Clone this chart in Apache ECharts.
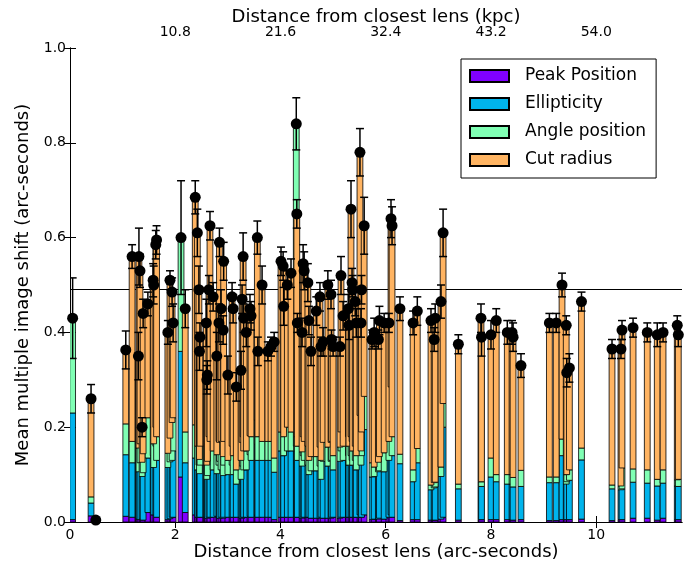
<!DOCTYPE html>
<html>
<head>
<meta charset="utf-8">
<script src="https://cdn.jsdelivr.net/npm/echarts@6/dist/echarts.min.js"></script>
<style>html,body{margin:0;background:#fff}#chart{width:687px;height:570px}</style>
</head>
<body>
<div id="chart"></div>
<script>
// distance from closest lens (arc-seconds), one entry per bar
const dist = [
  0.05,0.40,0.49,1.06,1.18,1.30,1.31,1.33,1.37,1.39,
  1.48,1.58,1.59,1.63,1.645,1.86,1.90,1.94,1.96,2.11,
  2.19,2.38,2.42,2.45,2.46,2.47,2.59,2.60,2.61,2.64,
  2.66,2.72,2.79,2.83,2.84,2.87,2.91,2.92,3.00,3.08,
  3.10,3.16,3.25,3.27,3.29,3.30,3.35,3.42,3.44,3.56,
  3.57,3.65,3.76,3.82,3.88,4.01,4.05,4.06,4.13,4.20,
  4.30,4.31,4.32,4.41,4.43,4.45,4.52,4.54,4.58,4.68,
  4.75,4.77,4.81,4.90,4.96,4.97,5.00,5.13,5.15,5.19,
  5.29,5.30,5.34,5.36,5.37,5.42,5.44,5.51,5.53,5.54,
  5.59,5.74,5.78,5.86,5.88,5.97,6.06,6.10,6.12,6.27,
  6.52,6.60,6.86,6.92,6.94,7.05,7.09,7.38,7.81,7.82,
  8.00,8.10,8.31,8.40,8.42,8.57,9.11,9.24,9.35,9.43,
  9.44,9.49,9.72,10.30,10.47,10.49,10.70,10.97,11.16,11.27,
  11.54,11.56
];
const peakPos = [
  .005,.013,.003,.012,.01,.008,.006,.005,.006,.004,
  .02,.02,.015,.015,.01,.005,.007,.01,.01,.095,
  .02,.015,.01,.01,.012,.01,.01,.01,.008,.01,
  .01,.01,.012,.01,.008,.01,.008,.01,.01,.01,
  .01,.01,.01,.008,.01,.01,.01,.012,.01,.015,
  .01,.01,.01,.01,.005,.01,.01,.01,.01,.01,
  .01,.01,.01,.008,.01,.01,.01,.01,.008,.008,
  .008,.01,.008,.008,.008,.01,.01,.008,.01,.01,
  .01,.01,.01,.01,.01,.01,.01,.015,.01,.01,
  .015,.005,.006,.006,.008,.006,.01,.015,.01,.003,
  .005,.005,.004,.004,.004,.006,.01,.004,.005,.005,
  .005,.005,.005,.005,.004,.005,.003,.003,.005,.005,
  .005,.005,.006,.003,.005,.005,.008,.008,.004,.008,
  .005,.005
];
const ellipticity = [
  .225,.027,.001,.13,.115,.12,.10,.12,.09,.10,
  .115,.12,.10,.145,.12,.11,.12,.12,.14,.265,
  .105,.12,.10,.11,.09,.11,.11,.08,.09,.12,
  .12,.10,.09,.11,.12,.10,.09,.11,.09,.11,
  .09,.07,.08,.11,.13,.10,.10,.13,.12,.15,
  .12,.12,.12,.12,.10,.14,.13,.13,.14,.14,
  .15,.14,.12,.11,.13,.12,.11,.09,.10,.10,
  .11,.08,.12,.11,.12,.12,.10,.12,.14,.12,
  .13,.11,.13,.12,.11,.12,.10,.16,.11,.13,
  .18,.09,.09,.10,.10,.10,.12,.20,.13,.12,
  .08,.12,.064,.068,.07,.09,.19,.066,.07,.07,
  .09,.08,.075,.075,.07,.07,.08,.08,.135,.075,
  .08,.083,.125,.067,.063,.065,.076,.074,.072,.074,
  .071,.07
];
const anglePos = [
  .20,.013,0,.065,.045,.04,.05,.04,.03,.04,
  .085,.06,.05,.04,.05,.03,.05,.08,.07,.24,
  .065,.07,.05,.04,.03,.04,.04,.03,.03,.05,
  .04,.04,.04,.05,.04,.06,.04,.05,.03,.04,
  .04,.03,.04,.05,.04,.04,.04,.04,.05,.05,
  .05,.04,.04,.04,.03,.04,.05,.04,.05,.04,
  .68,.03,.03,.03,.04,.04,.04,.03,.03,.03,
  .04,.04,.04,.04,.04,.04,.03,.03,.04,.03,
  .04,.04,.04,.04,.03,.03,.03,.05,.03,.05,
  .07,.03,.02,.02,.03,.04,.04,.07,.04,.02,
  .025,.03,.01,.011,.01,.02,.05,.01,.01,.01,
  .04,.015,.02,.02,.02,.034,.012,.012,.035,.02,
  .015,.022,.025,.008,.008,.044,.028,.028,.014,.028,
  .013,.015
];
const cutRadius = [
  0,.207,0,.156,.39,.182,.404,.365,.074,.296,
  .24,.31,.335,.385,.415,.255,.333,.275,.20,0,
  .26,.48,.45,.33,.228,.23,.26,.18,.182,.31,
  .455,.325,.208,.25,.422,.28,.267,.38,.18,.315,
  .31,.175,.19,.302,.38,.28,.25,.268,.255,.385,
  .18,.33,.19,.20,.245,.36,.35,.275,.30,.335,
  0,.47,.26,.252,.365,.36,.345,.295,.222,.307,
  .317,.24,.212,.342,.312,.215,.23,.212,.33,.275,
  .27,.255,.48,.335,.34,.305,.28,.555,.27,.30,
  .36,.26,.284,.259,.287,.274,.25,.355,.445,.307,
  .31,.29,.347,.302,.346,.349,.36,.295,.345,.305,
  .26,.325,.30,.30,.296,.221,.325,.325,.325,.315,
  .215,.215,.309,.287,.289,.291,.298,.29,.305,.29,
  .326,.305
];
const errHalf = [
  .085,.03,.002,.04,.025,.05,.06,.035,.02,.03,
  .025,.035,.04,.03,.03,.025,.02,.03,.04,.12,
  .04,.035,.05,.05,.04,.03,.05,.03,.03,.03,
  .03,.03,.05,.04,.03,.04,.03,.04,.04,.03,
  .03,.03,.04,.03,.05,.03,.03,.03,.03,.035,
  .03,.04,.02,.02,.02,.03,.03,.04,.03,.03,
  .055,.03,.02,.03,.04,.04,.04,.03,.03,.03,
  .03,.02,.03,.03,.03,.02,.02,.02,.04,.03,
  .03,.03,.06,.03,.03,.03,.03,.05,.03,.03,
  .06,.02,.03,.02,.03,.02,.02,.04,.04,.025,
  .025,.03,.025,.025,.03,.035,.05,.02,.03,.04,
  .03,.025,.025,.025,.03,.025,.02,.02,.025,.02,
  .03,.03,.02,.02,.02,.02,.02,.02,.025,.02,
  .02,.025
];
const kpcTicks = [10.8, 21.6, 32.4, 43.2, 54.0];
const kpcPerArcsec = 5.4;
const xMax = 11.63;
const refLevel = 0.488;

const components = [
  { name: 'Peak Position', values: peakPos, color: '#8000ff' },
  { name: 'Ellipticity', values: ellipticity, color: '#00b4ec' },
  { name: 'Angle position', values: anglePos, color: '#80ffb4' },
  { name: 'Cut radius', values: cutRadius, color: '#ffb462' }
];

const BAR_W = 0.11;
const FONT = 'DejaVu Sans';

// stack the components by hand so each rect knows its base
let base = dist.map(() => 0);
const barSeries = components.map((c) => {
  const data = dist.map((x, i) => {
    const y0 = base[i];
    const y1 = y0 + c.values[i];
    return [x, y0, y1];
  });
  base = data.map(d => d[2]);
  return {
    name: c.name,
    type: 'custom',
    z: 2,
    clip: true,
    itemStyle: { color: c.color, borderColor: '#000', borderWidth: 1 },
    encode: { x: 0, y: 2 },
    renderItem: (params, api) => {
      const x = api.value(0);
      const p0 = api.coord([x - BAR_W / 2, api.value(1)]);
      const p1 = api.coord([x + BAR_W / 2, api.value(2)]);
      return {
        type: 'rect',
        shape: { x: p0[0], y: p1[1], width: p1[0] - p0[0], height: p0[1] - p1[1] },
        style: { fill: c.color, stroke: 'rgba(0,0,0,0.8)', lineWidth: 1 }
      };
    },
    data: data
  };
});
const totals = base;

barSeries[0].markLine = {
  silent: true, z: 1, symbol: 'none', animation: false,
  label: { show: false },
  lineStyle: { color: '#000', width: 1.2, type: 'solid' },
  data: [{ yAxis: refLevel }]
};

const errSeries = {
  type: 'custom',
  z: 3,
  clip: true,
  encode: { x: 0, y: 1 },
  renderItem: (params, api) => {
    const x = api.value(0), y = api.value(1), e = api.value(2);
    const hi = api.coord([x, y + e]);
    const lo = api.coord([x, y - e]);
    const cap = 4;
    const st = { stroke: '#000', lineWidth: 1.5 };
    return {
      type: 'group',
      children: [
        { type: 'line', shape: { x1: hi[0], y1: hi[1], x2: lo[0], y2: lo[1] }, style: st },
        { type: 'line', shape: { x1: hi[0] - cap, y1: hi[1], x2: hi[0] + cap, y2: hi[1] }, style: st },
        { type: 'line', shape: { x1: lo[0] - cap, y1: lo[1], x2: lo[0] + cap, y2: lo[1] }, style: st }
      ]
    };
  },
  data: dist.map((x, i) => [x, totals[i], errHalf[i]])
};

const dotSeries = {
  type: 'scatter',
  z: 4,
  symbolSize: 11,
  itemStyle: { color: '#000', opacity: 1 },
  data: dist.map((x, i) => [x, totals[i]])
};

const tickStyle = { inside: true, length: 6, lineStyle: { color: '#000' } };
const labelStyle = { color: '#000', fontFamily: FONT, fontSize: 14 };
const nameStyle = { color: '#000', fontFamily: FONT, fontSize: 18 };

const chart = echarts.init(document.getElementById('chart'));
chart.setOption({
  animation: false,
  backgroundColor: '#fff',
  grid: { left: 70, right: 5, top: 48, bottom: 48, containLabel: false, outerBoundsMode: 'none' },
  legend: {
    orient: 'vertical',
    left: 461, top: 59,
    padding: [8, 10, 9, 8],
    itemGap: 10,
    itemWidth: 39, itemHeight: 12,
    icon: 'rect',
    borderColor: '#000', borderWidth: 1,
    backgroundColor: '#fff',
    textStyle: { color: '#000', fontFamily: FONT, fontSize: 17, lineHeight: 18, padding: [0, 0, 0, 11] },
    data: components.map(c => c.name)
  },
  xAxis: [
    {
      type: 'value', min: 0, max: xMax, interval: 2,
      name: 'Distance from closest lens (arc-seconds)',
      nameLocation: 'middle', nameGap: 21, nameMoveOverlap: false, nameTextStyle: nameStyle,
      axisLine: { lineStyle: { color: '#000', width: 1 } },
      axisTick: tickStyle,
      axisLabel: Object.assign({ margin: 6, showMaxLabel: false }, labelStyle),
      splitLine: { show: false }
    },
    {
      type: 'value', position: 'top', min: 0, max: xMax * kpcPerArcsec,
      name: 'Distance from closest lens (kpc)',
      nameLocation: 'middle', nameGap: 22, nameMoveOverlap: false, nameTextStyle: nameStyle,
      axisLine: { lineStyle: { color: '#000', width: 1 } },
      axisTick: Object.assign({ customValues: kpcTicks }, tickStyle),
      axisLabel: Object.assign({ customValues: kpcTicks, margin: 9, formatter: v => v.toFixed(1) }, labelStyle),
      splitLine: { show: false }
    }
  ],
  yAxis: [
    {
      type: 'value', min: 0, max: 1, interval: 0.2,
      name: 'Mean multiple image shift (arc-seconds)',
      nameLocation: 'middle', nameGap: 38, nameTextStyle: nameStyle,
      axisLine: { show: true, lineStyle: { color: '#000', width: 1 } },
      axisTick: tickStyle,
      axisLabel: Object.assign({ margin: 4, formatter: v => v.toFixed(1) }, labelStyle),
      splitLine: { show: false }
    },
    {
      type: 'value', position: 'right', min: 0, max: 1, interval: 0.2,
      axisLine: { show: true, lineStyle: { color: '#000', width: 1 } },
      axisTick: tickStyle,
      axisLabel: { show: false },
      splitLine: { show: false }
    }
  ],
  series: barSeries.concat([errSeries, dotSeries])
});
</script>
</body>
</html>
